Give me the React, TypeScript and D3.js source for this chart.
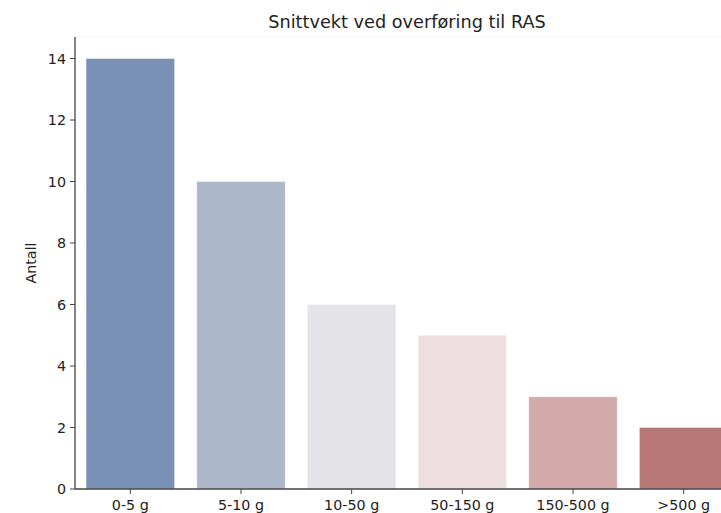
import React from "react";
import * as d3 from "d3";

const categories = ["0-5 g", "5-10 g", "10-50 g", "50-150 g", "150-500 g", ">500 g"];
const values = [14, 10, 6, 5, 3, 2];
const colors = ["#7891b5", "#adb8cb", "#e4e3e8", "#eddfdf", "#d3abaa", "#b67776"];
const yTicks = [0, 2, 4, 6, 8, 10, 12, 14];
const title = "Snittvekt ved overføring til RAS";
const yLabel = "Antall";

export default function App() {
  const W = 721, H = 513;
  const left = 75, right = 739, top = 37, bottom = 489;
  const x = d3.scaleBand<string>().domain(categories).range([left, right]).paddingInner(0.2).paddingOuter(0.1);
  const y = d3.scaleLinear().domain([0, 14.7]).range([bottom, top]);
  const font = "DejaVu Sans, sans-serif";
  return (
    <svg width={W} height={H} style={{ position: "absolute", left: 0, top: 0 }} fontFamily={font}>
      <rect x={0} y={0} width={W} height={H} fill="#fff" />
      <line x1={left} x2={W} y1={top} y2={top} stroke="#f6f6f6" />
      {categories.map((c, i) => (
        <rect key={c} x={x(c)} y={y(values[i])} width={x.bandwidth()} height={bottom - y(values[i])}
          fill={colors[i]} stroke="#ffffff" strokeOpacity={0.4} strokeWidth={1} />
      ))}
      <line x1={left} x2={left} y1={top} y2={bottom} stroke="#444" strokeWidth={1.3} />
      <line x1={left} x2={W} y1={bottom} y2={bottom} stroke="#444" strokeWidth={1.3} />
      {yTicks.map(t => (
        <g key={t}>
          <line x1={left - 5} x2={left} y1={y(t)} y2={y(t)} stroke="#444" />
          <text x={left - 9} y={y(t)} dy="0.35em" textAnchor="end" fontSize={14.3} fill="#222">{t}</text>
        </g>
      ))}
      {categories.map(c => {
        const cx = x(c)! + x.bandwidth() / 2;
        return (
          <g key={c}>
            <line x1={cx} x2={cx} y1={bottom} y2={bottom + 5} stroke="#444" />
            <text x={cx} y={bottom + 21} textAnchor="middle" fontSize={14.3} fill="#222">{c}</text>
          </g>
        );
      })}
      <text x={(left + right) / 2} y={28} textAnchor="middle" fontSize={17.7} fill="#222">{title}</text>
      <text transform={`translate(36,${(top + bottom) / 2}) rotate(-90)`} textAnchor="middle" fontSize={14.3} fill="#222">{yLabel}</text>
    </svg>
  );
}
